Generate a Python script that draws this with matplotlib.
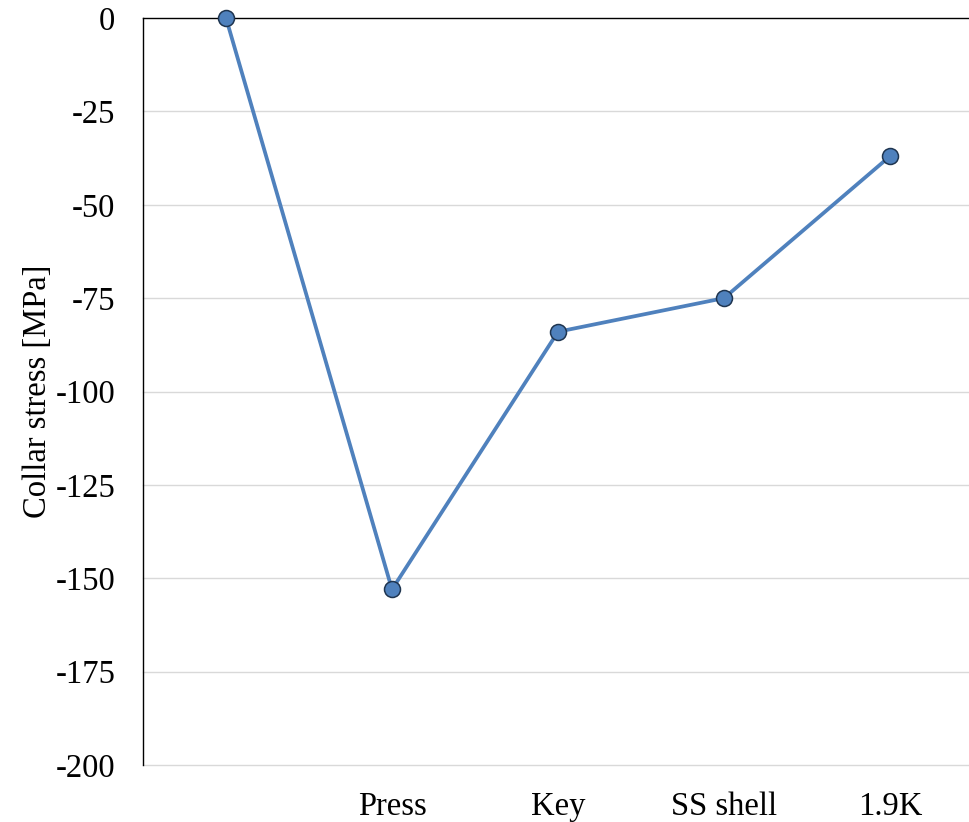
import numpy as np
import matplotlib
matplotlib.use('Agg')
import matplotlib.pyplot as plt

# data
stages = ['', 'Press', 'Key', 'SS shell', '1.9K']
collar_stress = [0, -153, -84, -75, -37]
yticks = [0, -25, -50, -75, -100, -125, -150, -175, -200]

plt.rcParams['font.family'] = ['Liberation Serif', 'DejaVu Serif']
plt.rcParams['axes.unicode_minus'] = False

fig = plt.figure(figsize=(9.69, 8.22), dpi=100)
ax = fig.add_axes([143/969, 1 - 765/822, (973 - 143)/969, (765 - 18)/822])

x = np.arange(len(stages))

# grid lines (light gray), x axis line at 0 is black
for yv in yticks:
    if yv != 0:
        ax.axhline(yv, color='#D9D9D9', lw=1.0, zorder=1, clip_on=False)
ax.axhline(0, color='black', lw=1.0, zorder=2, clip_on=False)

ax.plot(x, collar_stress, color='#4F81BD', lw=2.7, marker='o', markersize=11.5,
        markerfacecolor='#4F81BD', markeredgecolor='#1F3550', markeredgewidth=1.1,
        zorder=3, clip_on=False)

ax.set_xlim(-0.5, len(stages) - 0.5)
ax.set_ylim(-200, 0)
ax.set_yticks(yticks)
ax.set_yticklabels([str(v) for v in yticks])
ax.set_xticks(x)
ax.set_xticklabels(stages)

for s in ['top', 'right', 'bottom']:
    ax.spines[s].set_visible(False)
ax.spines['left'].set_color('black')
ax.spines['left'].set_linewidth(1.0)

ax.tick_params(axis='y', length=0, pad=20, labelsize=23.5)
ax.tick_params(axis='x', length=0, pad=19, labelsize=23.5)

ax.set_ylabel('Collar stress [MPa]', fontsize=23.5, labelpad=2)

fig.savefig('out.png', dpi=100)
